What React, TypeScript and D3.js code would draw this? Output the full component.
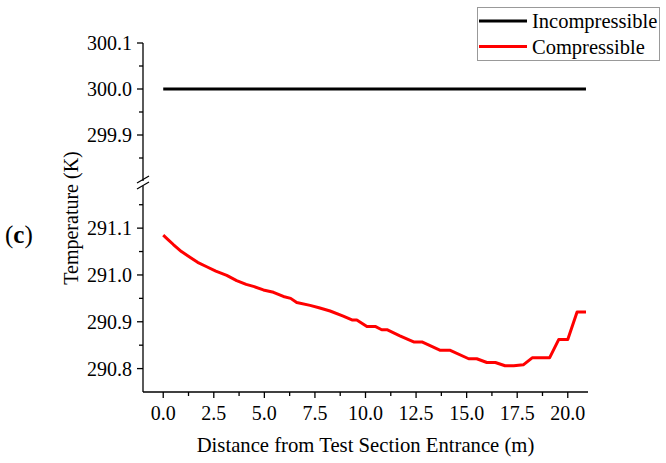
import React from "react";
import * as d3 from "d3";

const compX = [0, 0.25, 0.5, 0.9, 1.32, 1.7, 2.15, 2.6, 3.14, 3.63, 4.1, 4.5, 4.95, 5.45, 5.94, 6.3, 6.6, 7.26, 7.7, 8.25, 8.9, 9.33, 9.57, 10.07, 10.48, 10.8, 11.06, 11.7, 12.38, 12.79, 13.7, 14.19, 15.1, 15.5, 16.0, 16.42, 16.9, 17.33, 17.8, 18.24, 19.1, 19.55, 20.0, 20.46, 20.9];
const compT = [291.085, 291.075, 291.065, 291.05, 291.038, 291.027, 291.0175, 291.008, 290.999, 290.988, 290.98, 290.975, 290.968, 290.963, 290.954, 290.95, 290.941, 290.935, 290.93, 290.923, 290.912, 290.904, 290.904, 290.89, 290.89, 290.883, 290.883, 290.87, 290.857, 290.857, 290.839, 290.839, 290.821, 290.821, 290.813, 290.813, 290.806, 290.806, 290.808, 290.823, 290.823, 290.862, 290.862, 290.921, 290.921];
const incompX = [0, 20.9];
const incompT = [300.0, 300.0];

const xMajor = [0, 2.5, 5, 7.5, 10, 12.5, 15, 17.5, 20];
const xMinor = [1.25, 3.75, 6.25, 8.75, 11.25, 13.75, 16.25, 18.75];
const upperMajor = [300.1, 300.0, 299.9];
const upperMinor = [300.05, 299.95, 299.85];
const lowerMajor = [291.1, 291.0, 290.9, 290.8];
const lowerMinor = [291.15, 291.05, 290.95, 290.85];

const seriesNames = ["Incompressible", "Compressible"];
const seriesColors = ["#000000", "#ff0000"];

const FONT = "'Liberation Serif', 'DejaVu Serif', serif";
const ts: React.CSSProperties = { fontFamily: FONT };

export default function App() {
  const W = 666, H = 463;
  const x = d3.scaleLinear().domain([-1, 21]).range([143, 588]);
  const yU = d3.scaleLinear().domain([299.8, 300.1]).range([181, 43]);
  const yL = d3.scaleLinear().domain([290.75, 291.19]).range([392, 186]);
  const axX = x(-1);
  const baseY = yL(290.75);

  const lineU = d3.line<number>().x((_, i) => x(incompX[i])).y((d) => yU(d));
  const lineL = d3.line<number>().x((_, i) => x(compX[i])).y((d) => yL(d));

  const fmt = d3.format(".1f");

  return (
    <svg width={W} height={H} style={{ position: "absolute", left: 0, top: 0, background: "#fff", fontFamily: FONT }}>
      <rect x={0} y={0} width={W} height={H} fill="#fff" />
      <line x1={axX} x2={axX} y1={yU(300.1)} y2={181} stroke="#000" strokeWidth={1.3} />
      <line x1={axX} x2={axX} y1={186} y2={baseY} stroke="#000" strokeWidth={1.3} />
      <line x1={axX - 6} y1={183} x2={axX + 6} y2={176} stroke="#000" strokeWidth={1.2} />
      <line x1={axX - 6} y1={189} x2={axX + 6} y2={182} stroke="#000" strokeWidth={1.2} />
      {upperMajor.map((v) => (
        <g key={"um" + v}>
          <line x1={axX - 6} x2={axX} y1={yU(v)} y2={yU(v)} stroke="#000" strokeWidth={1.3} />
          <text x={axX - 11} y={yU(v) + 7} fontSize={20} textAnchor="end" style={ts}>{fmt(v)}</text>
        </g>
      ))}
      {upperMinor.map((v) => (
        <line key={"un" + v} x1={axX - 4} x2={axX} y1={yU(v)} y2={yU(v)} stroke="#000" strokeWidth={1.3} />
      ))}
      {lowerMajor.map((v) => (
        <g key={"lm" + v}>
          <line x1={axX - 6} x2={axX} y1={yL(v)} y2={yL(v)} stroke="#000" strokeWidth={1.3} />
          <text x={axX - 11} y={yL(v) + 7} fontSize={20} textAnchor="end" style={ts}>{fmt(v)}</text>
        </g>
      ))}
      {lowerMinor.map((v) => (
        <line key={"ln" + v} x1={axX - 4} x2={axX} y1={yL(v)} y2={yL(v)} stroke="#000" strokeWidth={1.3} />
      ))}
      <line x1={axX} x2={x(21)} y1={baseY} y2={baseY} stroke="#000" strokeWidth={1.3} />
      {xMajor.map((v) => (
        <g key={"xm" + v}>
          <line x1={x(v)} x2={x(v)} y1={baseY} y2={baseY + 6} stroke="#000" strokeWidth={1.3} />
          <text x={x(v)} y={420} fontSize={20} textAnchor="middle" style={ts}>{fmt(v)}</text>
        </g>
      ))}
      {xMinor.map((v) => (
        <line key={"xn" + v} x1={x(v)} x2={x(v)} y1={baseY} y2={baseY + 4} stroke="#000" strokeWidth={1.3} />
      ))}
      <text x={x(10)} y={452} fontSize={20.7} textAnchor="middle" style={ts}>Distance from Test Section Entrance (m)</text>
      <text transform={`translate(78,218) rotate(-90)`} fontSize={20} textAnchor="middle" style={ts}>Temperature (K)</text>
      <text x={5} y={243} fontSize={25} style={ts}>(<tspan fontWeight="bold">c</tspan>)</text>
      <path d={lineU(incompT) || ""} fill="none" stroke={seriesColors[0]} strokeWidth={3.2} />
      <path d={lineL(compT) || ""} fill="none" stroke={seriesColors[1]} strokeWidth={3} strokeLinejoin="round" />
      <rect x={477.5} y={7.5} width={182} height={53} fill="#fff" stroke="#999" strokeWidth={1} />
      {seriesNames.map((n, i) => (
        <g key={n}>
          <line x1={479} x2={527} y1={21 + i * 25.5} y2={21 + i * 25.5} stroke={seriesColors[i]} strokeWidth={3} />
          <text x={532} y={28 + i * 25.5} fontSize={20.5} style={ts}>{n}</text>
        </g>
      ))}
    </svg>
  );
}
